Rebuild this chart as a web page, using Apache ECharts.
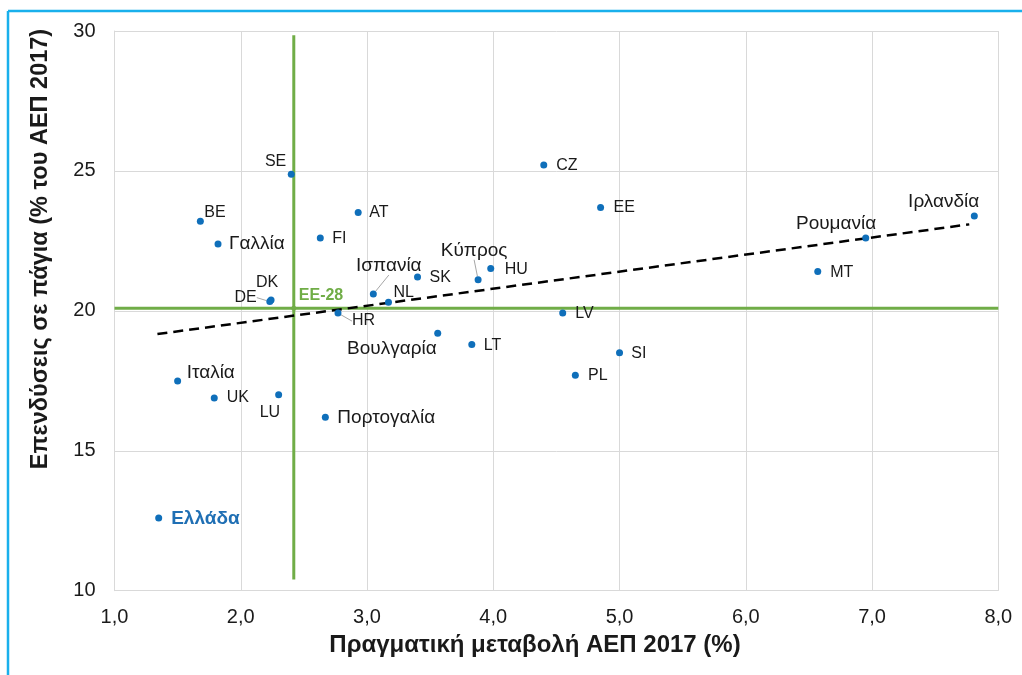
<!DOCTYPE html>
<html>
<head>
<meta charset="utf-8">
<script src="https://cdn.jsdelivr.net/npm/echarts@6/dist/echarts.min.js"></script>
<style>
html,body{margin:0;padding:0;background:#fff;}
#chart{width:1022px;height:675px;}
</style>
</head>
<body>
<div id="chart"></div>
<script>
// ---- data ----
const countries = ['SE','CZ','BE','AT','EE','Γαλλία','FI','Ιρλανδία','Ρουμανία','MT','HU','Κύπρος','SK','Ισπανία','NL','DK','DE','HR','LV','Βουλγαρία','LT','SI','PL','Ιταλία','UK','LU','Πορτογαλία','Ελλάδα'];
const gdpGrowth = [2.40,4.40,1.68,2.93,4.85,1.82,2.63,7.81,6.95,6.57,3.98,3.88,3.40,3.05,3.17,2.24,2.23,2.77,4.55,3.56,3.83,5.00,4.65,1.50,1.79,2.30,2.67,1.35];
const investment = [24.88,25.21,23.20,23.51,23.69,22.39,22.60,23.39,22.60,21.41,21.51,21.11,21.21,20.60,20.31,20.39,20.33,19.92,19.92,19.20,18.80,18.50,17.70,17.49,16.89,17.00,16.20,12.60];
const euName = 'EE-28';
const euGrowth = 2.42;
const euInvestment = 20.09;
const euLineYRange = [10.4, 29.85];
const euLineXRange = [1.0, 8.0];
const trendX = [1.34, 7.77];
const trendY = [19.17, 23.09];
const xTicks = [1,2,3,4,5,6,7,8];
const yTicks = [10,15,20,25,30];

// ---- label styling (not data) ----
const labelCfg = {
  'SE':['right',-5,-13],'BE':['left',4,-9],'Γαλλία':['left',11,0],'FI':['left',12,1],
  'DK':['center',-4,-17],'DE':['right',-13,-4],'CZ':['left',12.5,1],'AT':['left',11,0],
  'EE':['left',13,0],'Κύπρος':['center',-4,-29.5],'HU':['left',14,1],'SK':['left',12,1],
  'Ισπανία':['center',15.5,-28.5],'NL':['left',5,-10],'HR':['left',14,8],'LV':['left',12.5,1],
  'Ιρλανδία':['right',5,-14.5],'Ρουμανία':['right',10.5,-14.5],'MT':['left',12.5,1],
  'Ιταλία':['left',9,-8.5],'UK':['left',12.5,0],'LU':['right',1.5,17.5],
  'Πορτογαλία':['left',12,0.5],'Βουλγαρία':['right',-1,16],'Ελλάδα':['left',12.5,0.5],
  'LT':['left',12,0.7],'SI':['left',11.7,0.6],'PL':['left',12.7,0]
};
const leaderNames = ['DE','HR','Κύπρος','Ισπανία'];
const greek = /[\u0370-\u03FF]/;
const BLUE = '#0F6FBA', GREEN = '#70AD47', FONT = "'Liberation Sans', Arial, sans-serif";

const pts = countries.map((n,i)=>{
  const c = labelCfg[n];
  const isGreece = n === 'Ελλάδα';
  const item = {
    name:n, value:[gdpGrowth[i], investment[i]],
    label:{
      show:true, position:'inside', align:c[0], verticalAlign:'middle', offset:[c[1],c[2]],
      formatter:n, fontFamily:FONT, opacity:1,
      fontSize: greek.test(n) ? 19 : 16,
      fontWeight: isGreece ? 'bold' : 'normal',
      color: isGreece ? '#1F6FB4' : '#1a1a1a'
    }
  };
  if (leaderNames.includes(n)) {
    item.labelLine = {show:true, length2:0, lineStyle:{color:'#a6a6a6', width:1}};
  }
  return item;
});

const chart = echarts.init(document.getElementById('chart'), null, {renderer:'canvas'});
const fmt = v => v.toFixed(1).replace('.', ',');
chart.setOption({
  animation:false,
  backgroundColor:'#fff',
  grid:{left:114.5, top:31, right:23.7, bottom:84.3},
  xAxis:{
    type:'value', min:xTicks[0], max:xTicks[xTicks.length-1], interval:1,
    axisLine:{show:true, lineStyle:{color:'#d9d9d9', width:1}},
    axisTick:{show:false},
    splitLine:{show:true, lineStyle:{color:'#d9d9d9', width:1}},
    axisLabel:{formatter:fmt, fontFamily:FONT, fontSize:20, color:'#1a1a1a', margin:17}
  },
  yAxis:{
    type:'value', min:yTicks[0], max:yTicks[yTicks.length-1], interval:5,
    axisLine:{show:true, lineStyle:{color:'#d9d9d9', width:1}},
    axisTick:{show:false},
    splitLine:{show:true, lineStyle:{color:'#d9d9d9', width:1}},
    axisLabel:{fontFamily:FONT, fontSize:20, color:'#1a1a1a', margin:19}
  },
  graphic:[
    {type:'line', shape:{x1:8, y1:11, x2:1022, y2:11}, style:{stroke:'#19B0EC', lineWidth:2.5}},
    {type:'line', shape:{x1:8, y1:11, x2:8, y2:675}, style:{stroke:'#19B0EC', lineWidth:2.5}},
    {type:'text', x:535, y:645, style:{text:'Πραγματική μεταβολή ΑΕΠ 2017 (%)', font:"bold 24px 'Liberation Sans', Arial, sans-serif", fill:'#1a1a1a', textAlign:'center', textVerticalAlign:'middle'}},
    {type:'text', x:41, y:249, rotation:Math.PI/2, style:{text:'Επενδύσεις σε πάγια (% του ΑΕΠ 2017)', font:"bold 23.5px 'Liberation Sans', Arial, sans-serif", fill:'#1a1a1a', textAlign:'center', textVerticalAlign:'middle'}}
  ],
  series:[
    {type:'line', z:1, symbol:'none', silent:true, lineStyle:{color:GREEN, width:3},
     data:[[euGrowth, euLineYRange[0]],[euGrowth, euLineYRange[1]]]},
    {type:'line', z:1, symbol:'none', silent:true, lineStyle:{color:GREEN, width:3},
     data:[[euLineXRange[0], euInvestment],[euLineXRange[1], euInvestment]]},
    {type:'line', z:2, symbol:'none', silent:true, lineStyle:{color:'#000', width:2.5, type:[10,6]},
     data:[[trendX[0], trendY[0]],[trendX[1], trendY[1]]]},
    {type:'scatter', z:3, symbolSize:7, itemStyle:{color:BLUE, opacity:1}, data:pts},
    {type:'scatter', z:3, symbolSize:5, itemStyle:{color:GREEN, opacity:1},
     data:[{name:euName, value:[euGrowth, euInvestment],
       label:{show:true, position:'inside', align:'left', verticalAlign:'middle', offset:[5,-12.6], formatter:euName,
         fontFamily:FONT, fontSize:16, fontWeight:'bold', color:GREEN}}]}
  ]
});
</script>
</body>
</html>
